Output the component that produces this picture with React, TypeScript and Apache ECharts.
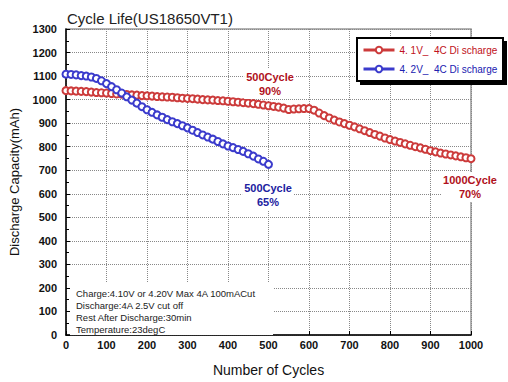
import React, { useEffect, useRef } from "react";
import * as echarts from "echarts";

const cyclesRed = [
  0, 12.5, 25, 37.5, 50, 62.5, 75, 87.5, 100, 112.5, 125, 137.5, 150, 162.5, 175, 187.5, 200,
  212.5, 225, 237.5, 250, 262.5, 275, 287.5, 300, 312.5, 325, 337.5, 350, 362.5, 375, 387.5, 400,
  412.5, 425, 437.5, 450, 462.5, 475, 487.5, 500, 512.5, 525, 537.5, 550, 562.5, 575, 587.5, 600,
  612.5, 625, 637.5, 650, 662.5, 675, 687.5, 700, 712.5, 725, 737.5, 750, 762.5, 775, 787.5, 800,
  812.5, 825, 837.5, 850, 862.5, 875, 887.5, 900, 912.5, 925, 937.5, 950, 962.5, 975, 987.5, 1000,
];
const capacityRed = [
  1038, 1037, 1036, 1035, 1034, 1032, 1030, 1029, 1028, 1026, 1024, 1023, 1022, 1020, 1019, 1017, 1016,
  1015, 1013, 1012, 1011, 1010, 1008, 1006, 1005, 1004, 1002, 1000, 999, 998, 996, 995, 993,
  991, 989, 987, 985, 983, 980, 977, 974, 971, 968, 964, 958, 960, 961, 962, 962,
  955, 943, 932, 922, 913, 905, 898, 891, 884, 876, 868, 860, 852, 845, 837, 830,
  824, 818, 812, 806, 800, 795, 789, 783, 778, 773, 769, 765, 761, 757, 753, 749,
];
const cyclesBlue = [
  0, 12.5, 25, 37.5, 50, 62.5, 75, 87.5, 100, 112.5, 125, 137.5, 150, 162.5, 175, 187.5, 200,
  212.5, 225, 237.5, 250, 262.5, 275, 287.5, 300, 312.5, 325, 337.5, 350, 362.5, 375, 387.5, 400,
  412.5, 425, 437.5, 450, 462.5, 475, 487.5, 500,
];
const capacityBlue = [
  1108, 1107, 1105, 1102, 1100, 1096, 1090, 1080, 1068, 1055, 1042, 1028, 1012, 998, 985, 970, 957,
  946, 935, 925, 915, 906, 898, 889, 880, 870, 860, 850, 841, 832, 822, 812, 803,
  796, 788, 780, 770, 760, 748, 738, 725,
];
const seriesNames = ["4. 1V_  4C Di scharge", "4. 2V_  4C Di scharge"];
const titleText = "Cycle Life(US18650VT1)";
const xName = "Number of Cycles";
const yName = "Discharge Capacity(mAh)";
const noteLines = [
  "Charge:4.10V or 4.20V Max 4A 100mACut",
  "Discharge:4A 2.5V cut off",
  "Rest After Discharge:30min",
  "Temperature:23degC",
];

const FONT = "Liberation Sans, Arial, sans-serif";
const RED = "#cc3b3b";
const BLUE = "#3b3bcc";

export default function App() {
  const ref = useRef<HTMLDivElement>(null);
  useEffect(() => {
    if (!ref.current) return;
    const chart = echarts.init(ref.current, undefined, { renderer: "svg" });
    const redData = cyclesRed.map((c, i) => [c, capacityRed[i]]);
    const blueData = cyclesBlue.map((c, i) => [c, capacityBlue[i]]);
    chart.setOption({
      animation: false,
      backgroundColor: "#ffffff",
      title: {
        text: titleText,
        left: 62,
        top: 6,
        textStyle: { fontFamily: FONT, fontSize: 15, fontWeight: "normal", color: "#222" },
      },
      grid: {
        left: 59,
        right: 37,
        top: 29,
        bottom: 41,
        show: true,
        backgroundColor: "transparent",
        borderColor: "#999",
        borderWidth: 1.5,
      },
      legend: {
        orient: "vertical",
        left: 362,
        top: 45,
        z: 200,
        itemGap: 9,
        itemWidth: 31,
        itemHeight: 8,
        padding: 0,
        lineStyle: { width: 3 },
        textStyle: { fontFamily: FONT, fontSize: 10 },
        data: [
          { name: seriesNames[0], textStyle: { color: "#c01020" } },
          { name: seriesNames[1], textStyle: { color: "#2020b0" } },
        ],
      },
      xAxis: {
        type: "value",
        min: 0,
        max: 1000,
        interval: 100,
        name: xName,
        nameLocation: "middle",
        nameGap: 28,
        nameTextStyle: { fontFamily: FONT, fontSize: 14, color: "#111" },
        axisLine: { show: true, lineStyle: { color: "#000", width: 1.5 } },
        axisTick: { show: true, inside: true, length: 4, lineStyle: { color: "#000" } },
        axisLabel: {
          fontFamily: FONT, fontSize: 11, fontWeight: "bold", color: "#111", margin: 4,
          formatter: (v: number) => String(v),
        },
        splitLine: { show: true, lineStyle: { color: "#888", type: "dotted", width: 1 } },
      },
      yAxis: {
        type: "value",
        min: 0,
        max: 1300,
        interval: 100,
        name: yName,
        nameLocation: "middle",
        nameGap: 45,
        nameRotate: 90,
        nameTextStyle: { fontFamily: FONT, fontSize: 13, color: "#111" },
        axisLine: { show: true, lineStyle: { color: "#000", width: 1.5 } },
        axisTick: { show: true, inside: true, length: 4, lineStyle: { color: "#000" } },
        minorTick: { show: true, splitNumber: 2, length: 3, lineStyle: { color: "#000" } },
        axisLabel: {
          fontFamily: FONT, fontSize: 11, fontWeight: "bold", color: "#111", margin: 9,
          formatter: (v: number) => String(v),
        },
        splitLine: { show: true, lineStyle: { color: "#888", type: "dotted", width: 1 } },
      },
      graphic: [
        {
          type: "rect",
          shape: { x: 360, y: 41, width: 147, height: 44 },
          style: { fill: "#000" },
          z: 100,
        },
        {
          type: "rect",
          shape: { x: 357, y: 38, width: 146, height: 43 },
          style: { fill: "#fff", stroke: "#000", lineWidth: 2 },
          z: 100,
        },
        {
          type: "rect",
          shape: { x: 70, y: 283, width: 203, height: 52 },
          style: { fill: "#fff" },
          z: 50,
        },
        ...noteLines.map((t, i) => ({
          type: "text",
          x: 76,
          y: 293 + i * 12,
          z: 51,
          style: {
            text: t,
            fill: "#222",
            font: `9.5px ${FONT}`,
            verticalAlign: "middle",
          },
        })),
        {
          type: "text",
          x: 270,
          y: 84,
          z: 51,
          style: {
            text: "500Cycle\n90%",
            fill: "#b01020",
            font: `bold 11px ${FONT}`,
            align: "center",
            verticalAlign: "middle",
            lineHeight: 14,
            backgroundColor: "#fff",
            padding: [1, 2],
          },
        },
        {
          type: "text",
          x: 268,
          y: 195,
          z: 51,
          style: {
            text: "500Cycle\n65%",
            fill: "#2020a0",
            font: `bold 11px ${FONT}`,
            align: "center",
            verticalAlign: "middle",
            lineHeight: 14,
            backgroundColor: "#fff",
            padding: [1, 2],
          },
        },
        {
          type: "text",
          x: 470,
          y: 187,
          z: 51,
          style: {
            text: "1000Cycle\n70%",
            fill: "#b01020",
            font: `bold 11px ${FONT}`,
            align: "center",
            verticalAlign: "middle",
            lineHeight: 14,
            backgroundColor: "#fff",
            padding: [1, 2],
          },
        },
      ],
      series: [
        {
          name: seriesNames[0],
          type: "line",
          data: redData,
          symbol: "emptyCircle",
          symbolSize: 7,
          lineStyle: { color: RED, width: 1 },
          itemStyle: { color: RED, borderWidth: 1 },
          z: 3,
        },
        {
          name: seriesNames[1],
          type: "line",
          data: blueData,
          symbol: "emptyCircle",
          symbolSize: 7,
          lineStyle: { color: BLUE, width: 1 },
          itemStyle: { color: BLUE, borderWidth: 1 },
          z: 4,
        },
      ],
    });
    return () => chart.dispose();
  }, []);
  return <div ref={ref} style={{ width: 508, height: 382, position: "absolute", left: 0, top: 0 }} />;
}
